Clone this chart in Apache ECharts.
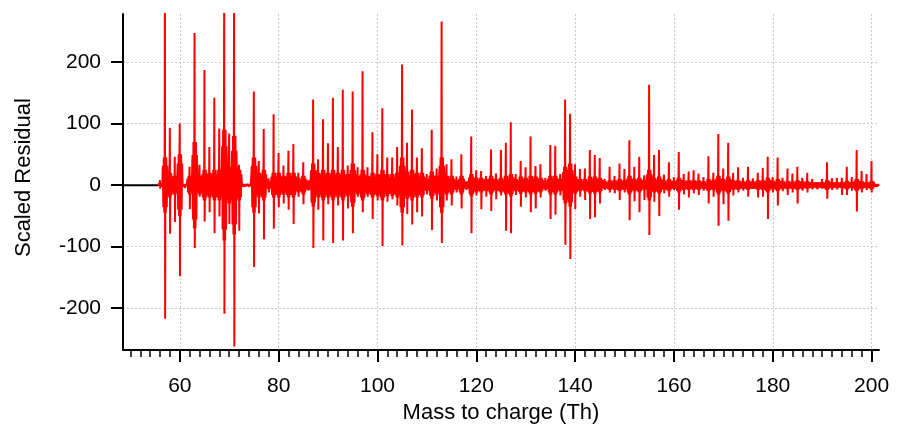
<!DOCTYPE html>
<html>
<head>
<meta charset="utf-8">
<script src="https://cdn.jsdelivr.net/npm/echarts@6/dist/echarts.min.js"></script>
<style>
html,body{margin:0;padding:0;background:#fff;}
#c{width:897px;height:429px;}
</style>
</head>
<body>
<div id="c"></div>
<script>
// nominal masses (Th)
const masses = [
  56,57,58,59,60,61,62,63,64,65,
  66,67,68,69,70,71,72,73,74,75,
  76,77,78,79,80,81,82,83,84,85,
  86,87,88,89,90,91,92,93,94,95,
  96,97,98,99,100,101,102,103,104,105,
  106,107,108,109,110,111,112,113,114,115,
  116,117,118,119,120,121,122,123,124,125,
  126,127,128,129,130,131,132,133,134,135,
  136,137,138,139,140,141,142,143,144,145,
  146,147,148,149,150,151,152,153,154,155,
  156,157,158,159,160,161,162,163,164,165,
  166,167,168,169,170,171,172,173,174,175,
  176,177,178,179,180,181,182,183,184,185,
  186,187,188,189,190,191,192,193,194,195,
  196,197,198,199,200,201
];
// positive residual peak at each mass
const residualHigh = [
  8,320,93,46,100,5,30,247,33,187,
  62,142,92,320,84,320,33,4,4,152,
  39,91,11,115,52,32,56,67,20,37,
  11,139,42,107,68,142,62,155,32,152,
  29,185,29,86,50,125,45,45,62,196,
  69,123,45,60,18,90,27,266,34,42,
  14,50,9,79,24,23,15,58,19,57,
  69,102,18,39,29,79,31,34,12,65,
  64,18,139,116,34,26,27,57,49,44,
  10,30,15,35,26,73,30,46,16,163,
  49,57,17,37,13,54,18,22,24,19,
  13,47,20,83,27,69,20,29,12,30,
  11,20,28,46,13,45,12,27,19,30,
  12,20,10,8,10,37,11,12,12,30,
  13,57,23,18,39,4
];
// negative residual peak at each mass
const residualLow = [
  -6,-217,-79,-60,-148,-5,-39,-102,-19,-59,
  -44,-78,-51,-209,-63,-262,-74,-3,-3,-133,
  -46,-88,-12,-71,-36,-30,-40,-63,-19,-31,
  -9,-102,-40,-90,-31,-94,-33,-90,-38,-78,
  -19,-44,-19,-55,-25,-99,-27,-23,-33,-98,
  -47,-64,-44,-51,-15,-73,-25,-94,-25,-33,
  -12,-38,-8,-78,-17,-39,-19,-42,-23,-17,
  -74,-78,-16,-35,-20,-44,-38,-20,-9,-55,
  -48,-17,-97,-120,-39,-19,-24,-55,-52,-30,
  -8,-12,-13,-24,-12,-57,-26,-44,-24,-81,
  -27,-50,-13,-19,-8,-40,-15,-20,-13,-16,
  -9,-30,-19,-66,-31,-58,-17,-12,-9,-19,
  -6,-20,-19,-55,-12,-33,-10,-16,-12,-30,
  -9,-12,-7,-7,-6,-22,-8,-7,-16,-16,
  -9,-43,-12,-8,-12,-3
];
// typical amplitude of the dense band around each mass
const residualBand = [
  3,45,20,15,50,2,15,70,15,25,
  20,25,25,90,30,80,25,2,2,45,
  20,25,6,20,20,15,20,20,12,15,
  8,35,20,25,20,25,20,25,18,35,
  15,25,15,20,18,25,18,18,20,45,
  22,25,20,20,10,22,15,45,15,15,
  8,15,6,18,12,12,10,15,10,12,
  15,18,10,14,12,15,14,12,7,15,
  15,10,30,35,14,10,10,14,14,12,
  6,8,8,10,8,15,10,12,8,25,
  12,14,8,10,6,12,8,8,8,8,
  6,10,8,15,10,14,8,8,6,8,
  6,8,8,12,7,10,6,7,6,8,
  6,6,5,5,5,8,5,5,5,7,
  5,10,6,5,7,2
];
const xRange = [48.5, 201.5];
const yRange = [-268, 278];
const flatStart = 56;               // trace is flat (black) below this mass
const xMajorTicks = [60,80,100,120,140,160,180,200];
const xMinorTicks = [50,52,54,56,58,62,64,66,68,70,72,74,76,78,82,84,86,88,90,92,94,96,98,
  102,104,106,108,110,112,114,116,118,122,124,126,128,130,132,134,136,138,
  142,144,146,148,150,152,154,156,158,162,164,166,168,170,172,174,176,178,
  182,184,186,188,190,192,194,196,198];
const yTicks = [-200,-100,0,100,200];

// build the red trace: a short oscillation around each nominal mass
const offs = [-0.44,-0.34,-0.24,-0.15,-0.07,-0.02,0.03,0.09,0.17,0.26,0.36,0.46];
const trace = [];
for (let i = 0; i < masses.length; i++) {
  const m = masses[i], b = residualBand[i];
  const vals = [0.7*b, -0.8*b, b, -b, b, residualHigh[i], residualLow[i], b, -b, b, -0.8*b, 0.7*b];
  for (let k = 0; k < offs.length; k++) trace.push([m + offs[k], vals[k]]);
}
trace.unshift([masses[0] - 0.5, 0]);
trace.push([xRange[1], 0]);

const FONT = 'Liberation Sans, Arial, sans-serif';
const chart = echarts.init(document.getElementById('c'), null, {renderer:'canvas'});
chart.setOption({
  animation: false,
  backgroundColor: '#fff',
  grid: {left: 123, right: 18, top: 14, bottom: 77, containLabel: false},
  xAxis: [{
    type: 'value', min: xRange[0], max: xRange[1],
    name: 'Mass to charge (Th)', nameLocation: 'middle', nameGap: 51,
    nameTextStyle: {fontFamily: FONT, fontSize: 22, color: '#000'},
    axisLine: {show: true, onZero: false, lineStyle: {color: '#000', width: 2}},
    axisTick: {show: true, customValues: xMajorTicks, length: 12, lineStyle: {color: '#000', width: 2}},
    axisLabel: {customValues: xMajorTicks, fontFamily: FONT, fontSize: 21, color: '#000', margin: 26},
    splitLine: {show: true, lineStyle: {color: '#c8c8c8', width: 1, type: [2, 2]}}
  }, {
    type: 'value', min: xRange[0], max: xRange[1], position: 'bottom',
    axisLine: {show: false, onZero: false},
    axisTick: {show: true, customValues: xMinorTicks, length: 7, lineStyle: {color: '#000', width: 1.5}},
    axisLabel: {show: false},
    splitLine: {show: false}
  }],
  yAxis: {
    type: 'value', min: yRange[0], max: yRange[1],
    name: 'Scaled Residual', nameLocation: 'middle', nameGap: 88,
    nameTextStyle: {fontFamily: FONT, fontSize: 22, color: '#000', padding: [0, 0, 0, 9]},
    axisLine: {show: true, onZero: false, lineStyle: {color: '#000', width: 2}},
    axisTick: {show: true, customValues: yTicks, length: 12, lineStyle: {color: '#000', width: 2}},
    axisLabel: {customValues: yTicks, fontFamily: FONT, fontSize: 21, color: '#000', margin: 22},
    splitLine: {show: true, lineStyle: {color: '#c8c8c8', width: 1, type: [2, 2]}}
  },
  series: [{
    type: 'line', data: [[xRange[0], 0], [flatStart, 0]],
    showSymbol: false, silent: true,
    lineStyle: {color: '#000', width: 2}
  }, {
    type: 'line', data: trace,
    showSymbol: false, silent: true, sampling: null,
    lineStyle: {color: '#ff0000', width: 2}
  }]
});
</script>
</body>
</html>
